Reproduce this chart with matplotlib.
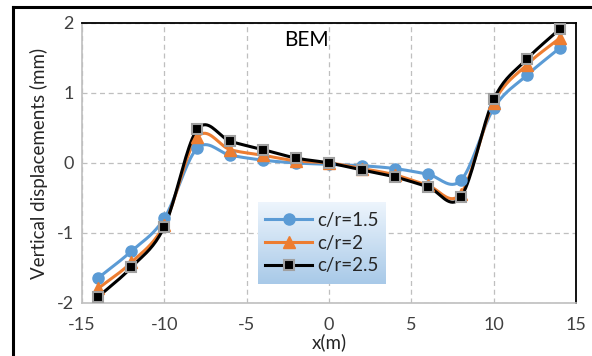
import numpy as np
import matplotlib
matplotlib.use("Agg")
import matplotlib.pyplot as plt
from matplotlib.lines import Line2D

plt.rcParams['font.family'] = ['Lato', 'DejaVu Sans']
plt.rcParams['axes.unicode_minus'] = False

# data
x_pos = [-14, -12, -10, -8, -6, -4, -2, 0, 2, 4, 6, 8, 10, 12, 14]
disp_15 = [-1.64, -1.26, -0.79, 0.21, 0.11, 0.04, 0.0, -0.02, -0.04, -0.08, -0.16, -0.25, 0.78, 1.25, 1.64]
disp_2 = [-1.79, -1.42, -0.88, 0.37, 0.19, 0.11, 0.03, 0.0, -0.08, -0.17, -0.32, -0.44, 0.86, 1.40, 1.78]
disp_25 = [-1.91, -1.49, -0.91, 0.48, 0.31, 0.19, 0.07, 0.0, -0.10, -0.20, -0.34, -0.49, 0.91, 1.48, 1.91]
labels = ['c/r=1.5', 'c/r=2', 'c/r=2.5']


def smooth(xs, ys, n=20):
    # Catmull-Rom curve through the points, like Excel's smoothed line
    xs = np.asarray(xs, float)
    ys = np.asarray(ys, float)
    px = np.concatenate([[2 * xs[0] - xs[1]], xs, [2 * xs[-1] - xs[-2]]])
    py = np.concatenate([[2 * ys[0] - ys[1]], ys, [2 * ys[-1] - ys[-2]]])
    t = np.linspace(0, 1, n, endpoint=False)
    ox, oy = [], []
    for i in range(1, len(px) - 2):
        for p, o in ((px, ox), (py, oy)):
            p0, p1, p2, p3 = p[i - 1], p[i], p[i + 1], p[i + 2]
            o.extend(0.5 * (2 * p1 + (-p0 + p2) * t
                            + (2 * p0 - 5 * p1 + 4 * p2 - p3) * t ** 2
                            + (-p0 + 3 * p1 - 3 * p2 + p3) * t ** 3))
    ox.append(xs[-1])
    oy.append(ys[-1])
    return np.array(ox), np.array(oy)


fig = plt.figure(figsize=(5.92, 3.56), dpi=100)
ax = fig.add_axes([0.1385, 0.149, 0.8345, 0.7865])

series = [
    (disp_15, '#5b9bd5', 'o', '#5b9bd5', 8, 1.0),
    (disp_2, '#ed7d31', '^', '#ed7d31', 8, 1.0),
    (disp_25, 'black', 's', '#a0a0a0', 7.5, 1.5),
]
handles = []
for (vals, col, mk, ec, ms, mew), lab in zip(series, labels):
    sx, sy = smooth(x_pos, vals)
    ax.plot(sx, sy, color=col, lw=2.2, zorder=3)
    ax.plot(x_pos, vals, ls='none', marker=mk, ms=ms, mfc=col if mk != 's' else 'black',
            mec=ec, mew=mew, zorder=4)
    handles.append(Line2D([], [], color=col, lw=2.2, marker=mk, ms=ms,
                          mfc=col if mk != 's' else 'black', mec=ec, mew=mew))

ax.set_xlim(-15, 15)
ax.set_ylim(-2, 2)
ax.set_xticks([-15, -10, -5, 0, 5, 10, 15])
ax.set_yticks([-2, -1, 0, 1, 2])
ax.grid(True, ls=(0, (4, 3)), color='#bfbfbf', lw=0.9)
ax.tick_params(length=0, labelsize=13, colors='#404040', pad=6)
ax.tick_params(axis='x', pad=10)
for s in ['left', 'bottom']:
    ax.spines[s].set_color('#bfbfbf')
    ax.spines[s].set_linewidth(1.2)
for s in ['top', 'right']:
    ax.spines[s].set_color('black')
    ax.spines[s].set_linewidth(1.3)

ax.set_xlabel('x(m)', fontsize=13.5, color='#262626', labelpad=0)
ax.set_ylabel('Vertical displacements (mm)', fontsize=13.5, color='#262626', labelpad=6)
ax.text(-1.4, 1.76, 'BEM', fontsize=15, color='black', ha='center', va='center')

# legend with a blue gradient behind it
lx0, lx1 = 258 / 592, 386 / 592
ly0, ly1 = 1 - 284 / 356, 1 - 202 / 356
gax = fig.add_axes([lx0, ly0, lx1 - lx0, ly1 - ly0], zorder=5)
g = np.linspace(0, 1, 64)[:, None] * np.ones((1, 8))
top = np.array([0.93, 0.96, 0.99])
bot = np.array([0.66, 0.79, 0.91])
img = top[None, None, :] * (1 - g[..., None]) + bot[None, None, :] * g[..., None]
gax.imshow(img, aspect='auto', extent=[0, 1, 0, 1])
gax.set_axis_off()
leg = gax.legend(handles, labels, loc='center', frameon=False, fontsize=13.5,
                 handlelength=2.5, handletextpad=0.25, labelspacing=0.3,
                 borderaxespad=0)
for t in leg.get_texts():
    t.set_color('#262626')

# outer frame lines on left and top
fig.add_artist(Line2D([13 / 592, 13 / 592], [0, 1 - 7 / 356], color='black', lw=2.2))
fig.add_artist(Line2D([13 / 592, 1], [1 - 7 / 356, 1 - 7 / 356], color='black', lw=2.2))

fig.savefig('out.png', dpi=100)
